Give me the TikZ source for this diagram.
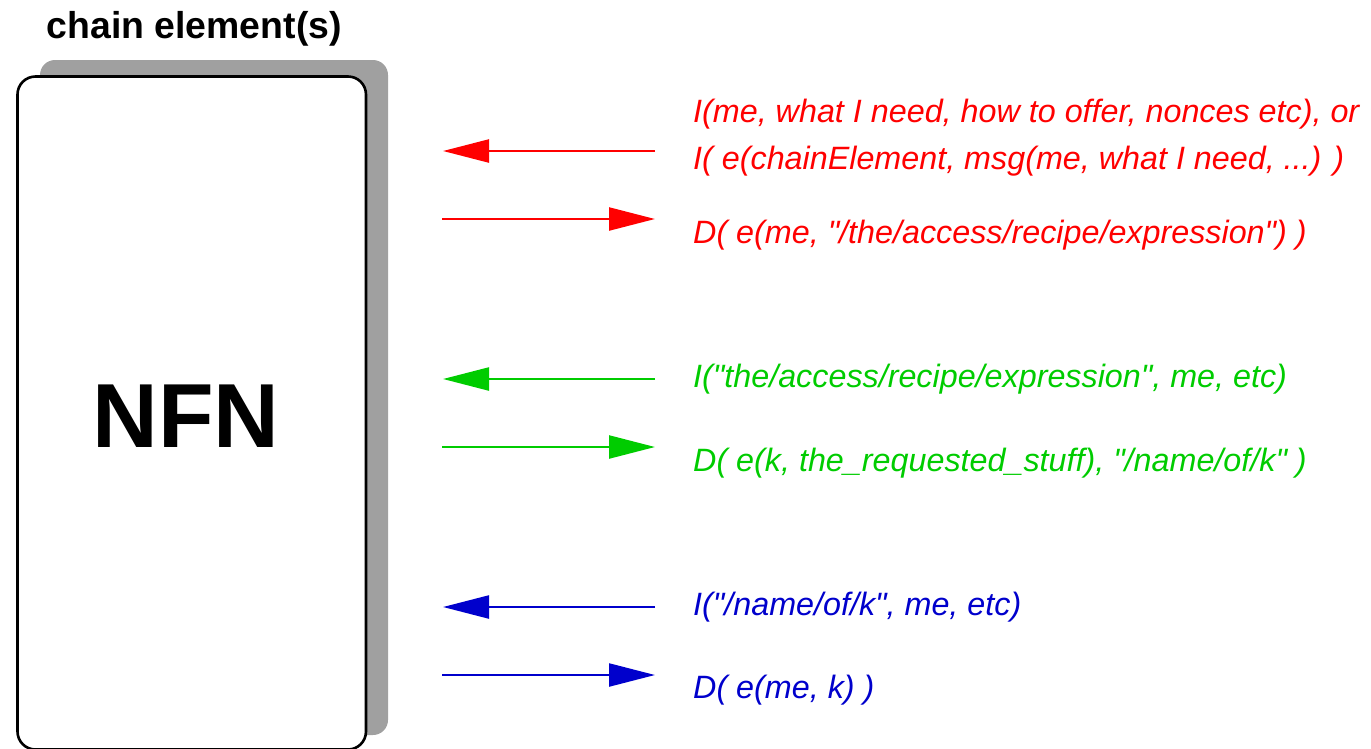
\documentclass[tikz,border=0pt]{standalone}
\usepackage{fontspec}
\setmainfont{Liberation Sans}[Ligatures=TeXOff]
\usetikzlibrary{arrows.meta}
\definecolor{msgred}{HTML}{FF0000}
\definecolor{msggreen}{HTML}{00CC00}
\definecolor{msgblue}{HTML}{0000CC}
\definecolor{shadowgray}{HTML}{A0A0A0}
\begin{document}
\begin{tikzpicture}[x=1pt,y=-1pt,
  msg/.style={font=\fontsize{32.3}{38}\selectfont\itshape, anchor=base west, inner sep=0pt},
  flow/.style={line width=2.3pt, -{Triangle[length=46pt,width=23pt]}},
  element/.style={draw=black, fill=white, line width=2.6pt, rounded corners=18pt,
    minimum width=348.5pt, minimum height=673pt, inner sep=0pt},
]
\useasboundingbox (0,0) rectangle (1371,748);

% chain element: shadow and box
\fill[shadowgray, rounded corners=15pt] (40,60) rectangle (388,735);
\node[element] (box) at (191.75,413) {};
\node[font=\fontsize{91}{100}\selectfont\bfseries, anchor=base, inner sep=0pt] (nfn) at (186,447) {NFN};
\node[font=\fontsize{37.4}{44}\selectfont\bfseries, anchor=base west, inner sep=0pt] (title) at (46.5,38) {chain element(s)};

% arrow end points
\coordinate (r1s) at (655,151); \coordinate (r1e) at (443,151);
\coordinate (r2s) at (442,219); \coordinate (r2e) at (655,219);
\coordinate (g1s) at (655,379); \coordinate (g1e) at (443,379);
\coordinate (g2s) at (442,447); \coordinate (g2e) at (655,447);
\coordinate (b1s) at (655,607); \coordinate (b1e) at (443,607);
\coordinate (b2s) at (442,675); \coordinate (b2e) at (655,675);

% red exchange
\draw[flow, msgred] (r1s) -- (r1e);
\draw[flow, msgred] (r2s) -- (r2e);
\node[msg, text=msgred] (r1a) at (693,122) {I(me, what I need, how to offer, nonces etc), or};
\node[msg, text=msgred] (r1b) at (693,169.5) {I( e(chainElement, msg(me, what I need, ...) )};
\node[msg, text=msgred] (r2t) at (693,243) {D( e(me, "/the/access/recipe/expression") )};

% green exchange
\draw[flow, msggreen] (g1s) -- (g1e);
\draw[flow, msggreen] (g2s) -- (g2e);
\node[msg, text=msggreen] (g1t) at (693,387) {I("the/access/recipe/expression", me, etc)};
\node[msg, text=msggreen] (g2t) at (693,471) {D( e(k, the\_requested\_stuff), "/name/of/k" )};

% blue exchange
\draw[flow, msgblue] (b1s) -- (b1e);
\draw[flow, msgblue] (b2s) -- (b2e);
\node[msg, text=msgblue] (b1t) at (693,615) {I("/name/of/k", me, etc)};
\node[msg, text=msgblue] (b2t) at (693,698) {D( e(me, k) )};
\end{tikzpicture}
\end{document}
